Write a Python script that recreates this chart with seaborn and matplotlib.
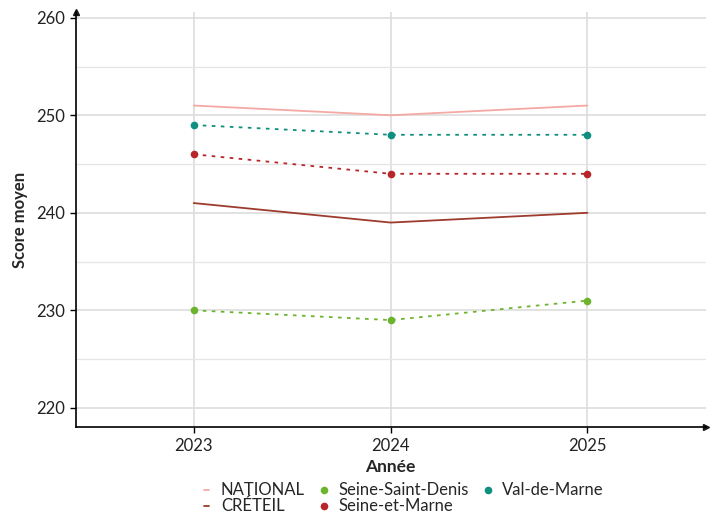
import pandas as pd
import matplotlib.pyplot as plt
import seaborn as sns
from matplotlib.lines import Line2D
from matplotlib.ticker import MultipleLocator

years = [2023, 2024, 2025]
national = [251, 250, 251]
creteil = [241, 239, 240]
seine_saint_denis = [230, 229, 231]
seine_et_marne = [246, 244, 244]
val_de_marne = [249, 248, 248]

series = {
    'NATIONAL': national,
    'CRÉTEIL': creteil,
    'Seine-Saint-Denis': seine_saint_denis,
    'Seine-et-Marne': seine_et_marne,
    'Val-de-Marne': val_de_marne,
}
colors = {
    'NATIONAL': '#f4a9a4',
    'CRÉTEIL': '#9c3b2e',
    'Seine-Saint-Denis': '#6cb42e',
    'Seine-et-Marne': '#b8262b',
    'Val-de-Marne': '#0e8f80',
}
levels = ['NATIONAL', 'CRÉTEIL']

df = pd.DataFrame([
    {'Année': y, 'Score': v, 'Zone': name}
    for name, vals in series.items() for y, v in zip(years, vals)
])

sns.set_theme(style='white')
plt.rcParams['font.family'] = ['Lato', 'DejaVu Sans']

fig, ax = plt.subplots(figsize=(7.2, 5.18), dpi=100)
fig.subplots_adjust(left=0.105, right=0.98, top=0.977, bottom=0.175)

# solid lines for national / academy, dotted with markers for departments
for name in series:
    sub = df[df['Zone'] == name]
    if name in levels:
        sns.lineplot(data=sub, x='Année', y='Score', color=colors[name], lw=1.3, ax=ax, legend=False)
    else:
        sns.lineplot(data=sub, x='Année', y='Score', color=colors[name], lw=1.3,
                     linestyle=(0, (2, 3)), marker='o', markersize=5.5,
                     markeredgewidth=0, ax=ax, legend=False)

ax.set_xlim(2022.4, 2025.6)
ax.set_ylim(218, 260.6)
ax.set_xticks(years)
ax.yaxis.set_major_locator(MultipleLocator(10))
ax.yaxis.set_minor_locator(MultipleLocator(5))
ax.grid(True, which='major', color='#dddddd', lw=1.2)
ax.grid(True, which='minor', axis='y', color='#e6e6e6', lw=0.9)
ax.set_axisbelow(True)
for s in ['top', 'right']:
    ax.spines[s].set_visible(False)
for s in ['left', 'bottom']:
    ax.spines[s].set_color('black')
    ax.spines[s].set_linewidth(1.2)
ax.plot(1, 0, '>k', transform=ax.transAxes, clip_on=False, markersize=4)
ax.plot(0, 1, '^k', transform=ax.transAxes, clip_on=False, markersize=4)
ax.tick_params(axis='both', which='major', length=4, width=1, color='black',
               labelsize=12, labelcolor='#222222', bottom=True, left=True)
ax.tick_params(axis='y', which='minor', length=0)
ax.set_xlabel('Année', fontsize=12.5, fontweight='bold', labelpad=4)
ax.set_ylabel('Score moyen', fontsize=12, fontweight='bold', labelpad=6)

handles = [
    Line2D([], [], color=colors['NATIONAL'], lw=1.3),
    Line2D([], [], color=colors['CRÉTEIL'], lw=1.3),
    Line2D([], [], color=colors['Seine-Saint-Denis'], marker='o', ls='', markersize=5.5, markeredgewidth=0),
    Line2D([], [], color=colors['Seine-et-Marne'], marker='o', ls='', markersize=5.5, markeredgewidth=0),
    Line2D([], [], color=colors['Val-de-Marne'], marker='o', ls='', markersize=5.5, markeredgewidth=0),
    Line2D([], [], ls=''),
]
labels = ['NATIONAL', 'CRÉTEIL', 'Seine-Saint-Denis', 'Seine-et-Marne', 'Val-de-Marne', '']
fig.legend(handles, labels, loc='lower center', bbox_to_anchor=(0.561, -0.022), ncol=3,
           frameon=False, fontsize=12, handlelength=0.3, handletextpad=0.7,
           columnspacing=1.0, labelspacing=0.0)

fig.savefig('out.png', dpi=100)
